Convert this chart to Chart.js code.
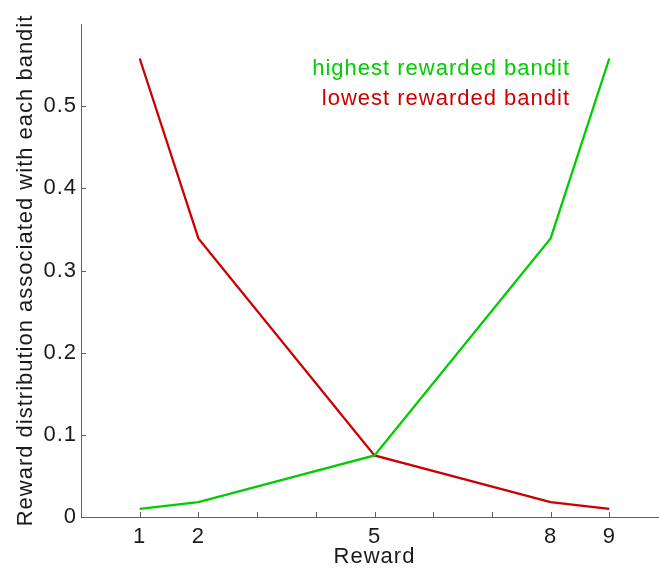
<!DOCTYPE html>
<html>
<head>
<meta charset="utf-8">
<script src="https://cdn.jsdelivr.net/npm/chart.js@4"></script>
<style>
  html, body { margin: 0; padding: 0; background: #fff; overflow: hidden; }
  #wrap { width: 668px; height: 569px; }
</style>
</head>
<body>
<div id="wrap"><canvas id="c" width="668" height="569"></canvas></div>
<script>
// Reward values on the x axis
const rewards = [1, 2, 5, 8, 9];
// Probability of each reward for the two bandits
const highestBandit = [0.010, 0.018, 0.075, 0.339, 0.558];
const lowestBandit  = [0.558, 0.339, 0.075, 0.018, 0.010];
// Tick marks / labels
const xTickMarks = [1, 2, 3, 4, 5, 6, 7, 8, 9];
const xTickLabels = [1, 2, 5, 8, 9];
const yTickMarks = [0, 0.1, 0.2, 0.3, 0.4, 0.5];

const GREEN = '#00cc00';
const RED = '#cc0000';
const AXIS = '#5f5f5f';
const FONT = '"Liberation Sans", Arial, Helvetica, sans-serif';
const FONT_SIZE = 22;
const SPACING = 1;

// Slightly loose letter spacing for all canvas text
const spacing = {
  id: 'spacing',
  beforeDraw(chart) { chart.ctx.letterSpacing = SPACING + 'px'; }
};

// Inward-pointing tick marks, as in MATLAB-style axes
const innerTicks = {
  id: 'innerTicks',
  afterDraw(chart) {
    const { ctx, chartArea, scales } = chart;
    ctx.save();
    ctx.strokeStyle = AXIS;
    ctx.lineWidth = 1;
    ctx.beginPath();
    xTickMarks.forEach(v => {
      const px = Math.round(scales.x.getPixelForValue(v)) + 0.5;
      ctx.moveTo(px, chartArea.bottom);
      ctx.lineTo(px, chartArea.bottom - 5);
    });
    yTickMarks.forEach(v => {
      const py = Math.round(scales.y.getPixelForValue(v)) + 0.5;
      ctx.moveTo(chartArea.left, py);
      ctx.lineTo(chartArea.left + 5, py);
    });
    ctx.stroke();
    ctx.restore();
  }
};

// Coloured text legend in the upper right
const textLegend = {
  id: 'textLegend',
  afterDraw(chart) {
    const { ctx, chartArea } = chart;
    ctx.save();
    ctx.letterSpacing = SPACING + 'px';
    ctx.font = FONT_SIZE + 'px ' + FONT;
    ctx.textAlign = 'right';
    ctx.textBaseline = 'alphabetic';
    const x = chartArea.left + 488 + SPACING;
    ctx.fillStyle = GREEN;
    ctx.fillText(chart.data.datasets[0].label, x, chartArea.top + 51);
    ctx.fillStyle = RED;
    ctx.fillText(chart.data.datasets[1].label, x, chartArea.top + 81);
    ctx.restore();
  }
};

new Chart(document.getElementById('c'), {
  type: 'line',
  data: {
    labels: rewards,
    datasets: [
      {
        label: 'highest rewarded bandit',
        data: rewards.map((r, i) => ({ x: r, y: highestBandit[i] })),
        borderColor: GREEN,
        borderWidth: 2.3,
        pointRadius: 0,
        tension: 0,
        fill: false
      },
      {
        label: 'lowest rewarded bandit',
        data: rewards.map((r, i) => ({ x: r, y: lowestBandit[i] })),
        borderColor: RED,
        borderWidth: 2.3,
        pointRadius: 0,
        tension: 0,
        fill: false
      }
    ]
  },
  options: {
    responsive: false,
    animation: false,
    devicePixelRatio: 1,
    layout: { padding: { top: 24, left: 0, right: 0, bottom: 0 } },
    plugins: {
      legend: { display: false },
      tooltip: { enabled: false }
    },
    scales: {
      x: {
        type: 'linear',
        min: 0,
        max: 10,
        afterBuildTicks(scale) {
          scale.ticks = xTickMarks.map(v => ({ value: v }));
        },
        afterFit(scale) { scale.height = 52; },
        grid: { display: false, drawTicks: false },
        border: { display: true, color: AXIS, width: 1 },
        ticks: {
          autoSkip: false,
          maxRotation: 0,
          padding: 7,
          color: '#1a1a1a',
          font: { family: FONT, size: FONT_SIZE },
          callback: v => xTickLabels.includes(v) ? String(v) : ''
        },
        title: {
          display: true,
          text: 'Reward',
          color: '#1a1a1a',
          font: { family: FONT, size: FONT_SIZE },
          padding: { top: 0, bottom: -1 }
        }
      },
      y: {
        type: 'linear',
        min: 0,
        max: 0.6,
        afterBuildTicks(scale) {
          scale.ticks = yTickMarks.map(v => ({ value: v }));
        },
        afterFit(scale) { scale.width = 81; },
        grid: { display: false, drawTicks: false },
        border: { display: true, color: AXIS, width: 1 },
        ticks: {
          padding: 4,
          color: '#1a1a1a',
          font: { family: FONT, size: FONT_SIZE },
          callback: v => String(Math.round(v * 10) / 10)
        },
        title: {
          display: true,
          text: 'Reward distribution associated with each bandit',
          color: '#1a1a1a',
          font: { family: FONT, size: FONT_SIZE },
          padding: { top: 13, bottom: 0 }
        }
      }
    }
  },
  plugins: [spacing, innerTicks, textLegend]
});
</script>
</body>
</html>
